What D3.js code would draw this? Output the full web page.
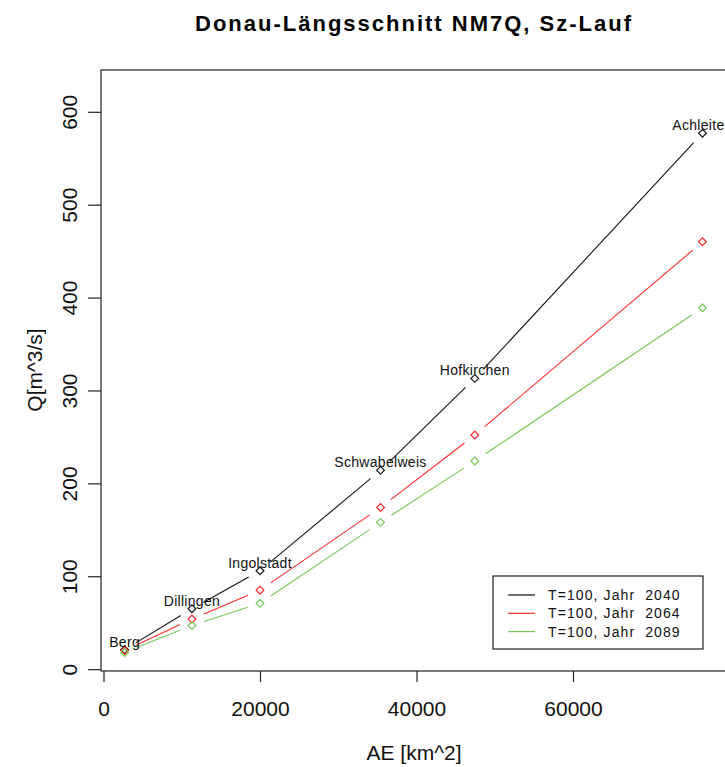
<!DOCTYPE html>
<html><head><meta charset="utf-8">
<script src="https://cdn.jsdelivr.net/npm/d3@7"></script>
<style>body{margin:0;background:#fff}svg{display:block}</style>
</head><body>
<svg id="c" width="725" height="767"></svg>
<script>
const stations = ["Berg","Dillingen","Ingolstadt","Schwabelweis","Hofkirchen","Achleiten"];
const areaKm2 = [2700, 11300, 20000, 35400, 47450, 76550];
const q2040 = [21, 65, 106, 214, 313, 577];
const q2064 = [20, 54, 85, 174, 252, 460];
const q2089 = [18, 47, 71, 158, 224, 389];
const seriesNames = ["T=100, Jahr  2040","T=100, Jahr  2064","T=100, Jahr  2089"];
const seriesColors = ["#111111","#ff2a2a","#74c853"];
const xTicks = [0, 20000, 40000, 60000];
const yTicks = [0, 100, 200, 300, 400, 500, 600];
const titleText = "Donau-Längsschnitt NM7Q, Sz-Lauf";
const xTitle = "AE [km^2]";
const yTitle = "Q[m^3/s]";

const series = [q2040, q2064, q2089];
const svg = d3.select("#c");
const font = "'Liberation Sans', Arial, sans-serif";

const x = d3.scaleLinear().domain([-320, 79680]).range([101, 727]);
const y = d3.scaleLinear().domain([-2, 645]).range([671, 70]);

svg.append("rect").attr("width",725).attr("height",767).attr("fill","#fff");

// title
svg.append("text").attr("x", 414).attr("y", 31).attr("text-anchor","middle")
  .attr("font-family", font).attr("font-weight","bold").attr("font-size", 22)
  .attr("letter-spacing", 2).attr("fill","#000").text(titleText);

// plot box
svg.append("rect").attr("x", 101).attr("y", 70).attr("width", 626).attr("height", 601)
  .attr("fill","none").attr("stroke","#222").attr("stroke-width",1.2);

// x axis
const xAxis = d3.axisBottom(x).tickValues(xTicks).tickSize(11).tickPadding(19).tickFormat(d3.format("d"));
const gx = svg.append("g").attr("transform","translate(0,671)").call(xAxis);
gx.select(".domain").remove();
gx.selectAll("line").attr("stroke","#222").attr("stroke-width",1.2);
gx.selectAll("text").attr("font-family", font).attr("font-size", 21).attr("fill","#111");

// y axis
const yAxis = d3.axisLeft(y).tickValues(yTicks).tickSize(13).tickPadding(11).tickFormat(d3.format("d"));
const gy = svg.append("g").attr("transform","translate(101,0)").call(yAxis);
gy.select(".domain").remove();
gy.selectAll("line").attr("stroke","#222").attr("stroke-width",1.2);
gy.selectAll(".tick text")
  .attr("font-family", font).attr("font-size", 21).attr("fill","#111")
  .attr("text-anchor","middle").attr("dy", null).attr("x", null)
  .attr("transform","translate(-24,0) rotate(-90)").attr("y", 0);

// axis titles
svg.append("text").attr("x", 414).attr("y", 760).attr("text-anchor","middle")
  .attr("font-family", font).attr("font-size", 21).attr("fill","#111").text(xTitle);
svg.append("text").attr("transform","translate(42,370) rotate(-90)").attr("text-anchor","middle")
  .attr("font-family", font).attr("font-size", 21).attr("fill","#111").text(yTitle);

// series: type "b" lines with gaps and diamond-ish points
const gap = 13;
series.forEach((vals, si) => {
  const pts = vals.map((v, i) => [x(areaKm2[i]), y(v)]);
  const g = svg.append("g");
  for (let i = 0; i < pts.length - 1; i++) {
    const [x0, y0] = pts[i], [x1, y1] = pts[i+1];
    const dx = x1 - x0, dy = y1 - y0, L = Math.hypot(dx, dy);
    if (L <= 2 * gap) continue;
    const ux = dx / L, uy = dy / L;
    g.append("line")
      .attr("x1", x0 + ux*gap).attr("y1", y0 + uy*gap)
      .attr("x2", x1 - ux*gap).attr("y2", y1 - uy*gap)
      .attr("stroke", seriesColors[si]).attr("stroke-width", 1.1);
  }
  g.selectAll("path.pt").data(pts).join("path").attr("class","pt")
    .attr("transform", d => `translate(${d[0]},${d[1]}) rotate(45)`)
    .attr("d", d3.symbol(d3.symbolSquare, 30)())
    .attr("fill","none").attr("stroke", seriesColors[si]).attr("stroke-width", 1.2);
});

// station labels
svg.append("g").selectAll("text").data(stations).join("text")
  .attr("x", (d, i) => x(areaKm2[i])).attr("y", (d, i) => y(q2040[i]) - 8)
  .attr("dy", "0.35em").attr("text-anchor","middle")
  .attr("font-family", font).attr("font-size", 14).attr("letter-spacing", 0.3)
  .attr("fill","#111").text(d => d);

// legend
const lg = svg.append("g");
lg.append("rect").attr("x", 493).attr("y", 576).attr("width", 210).attr("height", 73)
  .attr("fill","#fff").attr("stroke","#222").attr("stroke-width",1.2);
seriesNames.forEach((name, i) => {
  const yy = 595 + i * 18.3;
  lg.append("line").attr("x1", 508).attr("x2", 535).attr("y1", yy).attr("y2", yy)
    .attr("stroke", seriesColors[i]).attr("stroke-width", 1.2);
  lg.append("text").attr("x", 548).attr("y", yy).attr("dy","0.35em")
    .attr("font-family", font).attr("font-size", 14).attr("letter-spacing", 1.1)
    .attr("fill","#111").style("white-space","pre").text(name);
});
</script>
</body></html>
